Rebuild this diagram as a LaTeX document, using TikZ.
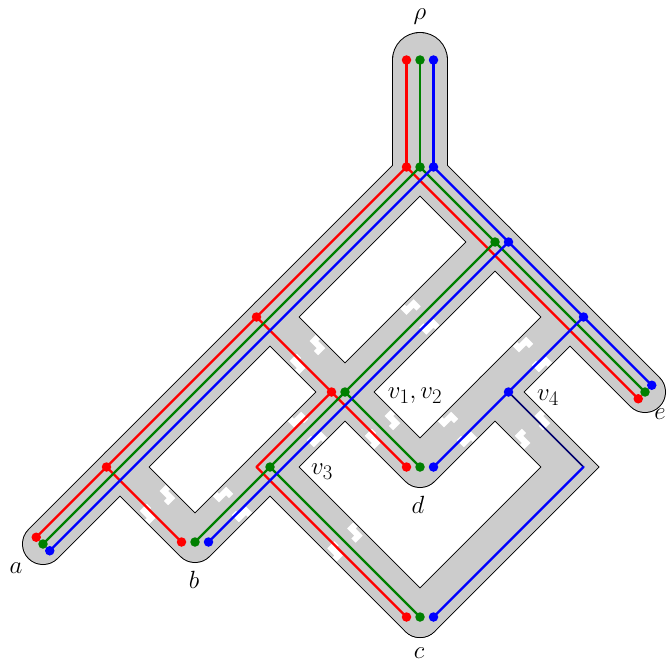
\documentclass[tikz,border=0pt]{standalone}
\usetikzlibrary{calc}
\definecolor{tubegray}{RGB}{204,204,204}
\definecolor{gred}{RGB}{255,0,0}
\definecolor{ggreen}{RGB}{0,128,0}
\definecolor{gblue}{RGB}{0,0,255}
\definecolor{gnavy}{RGB}{0,0,110}
\begin{document}
\begin{tikzpicture}[x=1pt,y=-1pt,line cap=round,line join=round]
\tikzset{
  tubeout/.style={draw=black,line width=42pt},
  tubein/.style={draw=tubegray,line width=40pt},
  vtubeout/.style={draw=black,line width=56pt},
  vtubein/.style={draw=tubegray,line width=54pt},
  gline/.style={line width=2.4pt},
  gdot/.style={circle,fill,inner sep=0pt,minimum size=9.5pt},
  lab/.style={font=\Huge,inner sep=0pt},
  zigmark/.style={draw=white,line width=6pt,line cap=butt,line join=miter}
}
\useasboundingbox (0,0) rectangle (668,663);
% species network (tube centre line)
\coordinate (T)  at (420,60);
\coordinate (R)  at (420,167);
\coordinate (R1) at (495,242);
\coordinate (R2) at (570,317);
\coordinate (E)  at (645,392);
\coordinate (L1) at (270,317);
\coordinate (L2) at (120,467);
\coordinate (A)  at (43,544);
\coordinate (H)  at (345,392);
\coordinate (V3) at (270,467);
\coordinate (B)  at (195,542);
\coordinate (D)  at (420,467);
\coordinate (V4) at (495,392);
\coordinate (K)  at (570,467);
\coordinate (C)  at (420,617);
% tube
\draw[vtubeout] (T) -- (R);
\draw[tubeout] (A) -- (R) -- (E);
\draw[tubeout] (L1) -- (H) -- (D) -- (V4) -- (R2);
\draw[tubeout] (R1) -- (H) -- (V3) -- (B) -- (L2);
\draw[tubeout] (V3) -- (C);
\draw[tubeout,line join=miter] (C) -- (K) -- (V4);
\draw[vtubein] (T) -- (R);
\draw[tubein] (A) -- (R) -- (E);
\draw[tubein] (L1) -- (H) -- (D) -- (V4) -- (R2);
\draw[tubein] (R1) -- (H) -- (V3) -- (B) -- (L2);
\draw[tubein] (V3) -- (C);
\draw[tubein,line join=miter] (C) -- (K) -- (V4);
% break marks
\foreach \p/\q/\r in {L2/B/45,V3/B/-45,L1/H/45,R1/H/-45,H/V3/-45,H/D/45,V4/D/-45,R2/V4/-45,V4/K/45,V3/C/45}{
  \begin{scope}[shift={($(\p)!0.5!(\q)$)},rotate=\r]
    \draw[zigmark] (-19.5,5) -- (-14,5) -- (-14,-5) -- (-7,-5);
    \draw[zigmark] (7,5) -- (14,5) -- (14,-5) -- (19.5,-5);
  \end{scope}
}
% gene coordinates
\foreach \n in {T,R,R1,R2,L1,L2,H,V3,B,D,V4,K,C}{
  \coordinate (r\n) at ($(\n)+(-13.5,0)$);
  \coordinate (g\n) at (\n);
  \coordinate (b\n) at ($(\n)+(13.5,0)$);
}
\coordinate (rA) at ($(A)+(-6.75,-6.75)$);
\coordinate (gA) at (A);
\coordinate (bA) at ($(A)+(6.75,6.75)$);
\coordinate (rE) at ($(E)+(-6.75,6.75)$);
\coordinate (gE) at (E);
\coordinate (bE) at ($(E)+(6.75,-6.75)$);
% red gene tree
\draw[gline,gred] (rT) -- (rR);
\draw[gline,gred] (rA) -- (rL2) -- (rL1) -- (rR) -- (rR1) -- (rR2) -- (rE);
\draw[gline,gred] (rL2) -- (rB);
\draw[gline,gred] (rL1) -- (rH) -- (rD);
\draw[gline,gred] (rH) -- (rV3) -- (rC);
% green gene tree
\draw[gline,ggreen] (gT) -- (gR);
\draw[gline,ggreen] (gA) -- (gR) -- (gR1) -- (gE);
\draw[gline,ggreen] (gR1) -- (gH) -- (gD);
\draw[gline,ggreen] (gH) -- (gV3) -- (gB);
\draw[gline,ggreen] (gV3) -- (gC);
% blue gene tree
\draw[gline,gblue] (bT) -- (bR);
\draw[gline,gblue] (bA) -- (bR) -- (bR1) -- (bR2) -- (bE);
\draw[gline,gblue] (bR1) -- (bB);
\draw[gline,gblue] (bR2) -- (bV4) -- (bD);
\draw[line width=1.6pt,gnavy] (bV4) -- (bK);
\draw[gline,gblue] (bK) -- (bC);
% dots
\foreach \n in {T,R,L1,L2,H,A,B,C,D,E}{\node[gdot,gred] (dr\n) at (r\n) {};}
\foreach \n in {T,R,R1,H,V3,A,B,C,D,E}{\node[gdot,ggreen] (dg\n) at (g\n) {};}
\foreach \n in {T,R,R1,R2,V4,A,B,C,D,E}{\node[gdot,gblue] (db\n) at (b\n) {};}
% labels
\node[lab] (lrho) at (420,17) {$\rho$};
\node[lab] (la) at (16,568) {$a$};
\node[lab] (lb) at (194,580) {$b$};
\node[lab] (lc) at (419,653) {$c$};
\node[lab] (ld) at (418,505) {$d$};
\node[lab] (le) at (660,414) {$e$};
\node[lab] (lv12) at (415,396) {$v_1,v_2$};
\node[lab] (lv3) at (322,472) {$v_3$};
\node[lab] (lv4) at (548,398) {$v_4$};
\end{tikzpicture}
\end{document}
